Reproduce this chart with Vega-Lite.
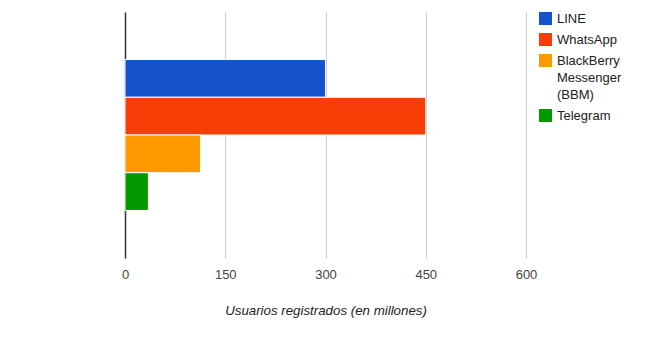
{
  "$schema": "https://vega.github.io/schema/vega-lite/v6.json",
  "width": 401,
  "height": 246,
  "autosize": {"type": "none"},
  "padding": {"left": 125, "top": 12, "right": 124, "bottom": 79},
  "background": "white",
  "data": {
    "values": [
      {"grupo": "2014", "app": "LINE", "usuarios": 300},
      {"grupo": "2014", "app": "WhatsApp", "usuarios": 450},
      {"grupo": "2014", "app": "BlackBerry Messenger (BBM)", "usuarios": 113},
      {"grupo": "2014", "app": "Telegram", "usuarios": 35}
    ]
  },
  "config": {
    "view": {"stroke": null},
    "font": "Liberation Sans",
    "style": {"guide-label": {"lineHeight": 17}}
  },
  "mark": {"type": "bar", "stroke": "white", "strokeWidth": 1},
  "encoding": {
    "y": {
      "field": "grupo",
      "type": "nominal",
      "scale": {"paddingInner": 0, "paddingOuter": 0.315},
      "axis": {
        "title": null,
        "labels": false,
        "ticks": false,
        "grid": false,
        "domain": true,
        "domainColor": "#333333",
        "domainWidth": 1.5
      }
    },
    "yOffset": {
      "field": "app",
      "type": "nominal",
      "sort": ["LINE", "WhatsApp", "BlackBerry Messenger (BBM)", "Telegram"],
      "scale": {"paddingInner": 0, "paddingOuter": 0}
    },
    "x": {
      "field": "usuarios",
      "type": "quantitative",
      "scale": {"domain": [0, 600], "nice": false},
      "axis": {
        "values": [0, 150, 300, 450, 600],
        "title": "Usuarios registrados (en millones)",
        "titleFontStyle": "italic",
        "titleFontWeight": "normal",
        "titleFontSize": 13.3,
        "titleColor": "#222222",
        "titlePadding": 22,
        "labelFontSize": 13,
        "labelColor": "#444444",
        "labelPadding": 10,
        "labelFlush": false,
        "ticks": false,
        "domain": false,
        "grid": true,
        "gridColor": "#cccccc",
        "gridWidth": 1
      }
    },
    "color": {
      "field": "app",
      "type": "nominal",
      "sort": ["LINE", "WhatsApp", "BlackBerry Messenger (BBM)", "Telegram"],
      "scale": {
        "domain": ["LINE", "WhatsApp", "BlackBerry Messenger (BBM)", "Telegram"],
        "range": ["#1552cc", "#f63e06", "#ff9900", "#009900"]
      },
      "legend": {
        "title": null,
        "orient": "none",
        "legendX": 414,
        "legendY": 0,
        "symbolType": "square",
        "symbolSize": 169,
        "symbolStrokeWidth": 0,
        "labelFontSize": 13,
        "labelColor": "#222222",
        "labelOffset": 5,
        "rowPadding": 7,
        "labelExpr": "datum.label == 'BlackBerry Messenger (BBM)' ? ['BlackBerry', 'Messenger', '(BBM)'] : datum.label"
      }
    }
  }
}
